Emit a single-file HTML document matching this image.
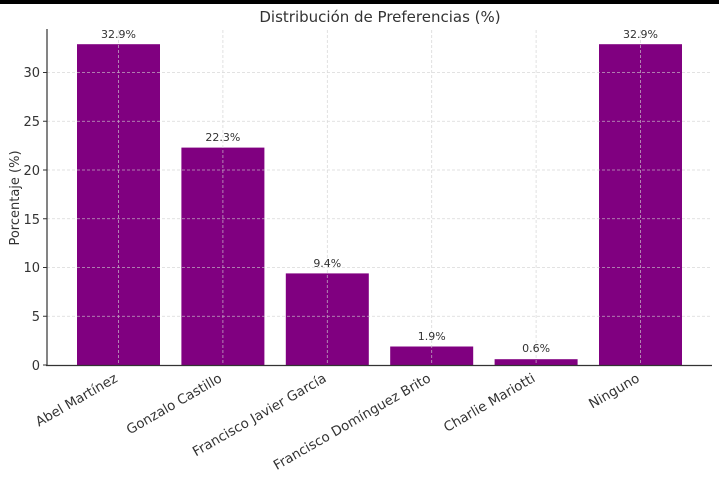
<!DOCTYPE html>
<html><head><meta charset="utf-8"><style>html,body{margin:0;padding:0;background:#fff}svg{display:block}text{font-family:"DejaVu Sans","Liberation Sans",sans-serif;fill:#333}</style></head>
<body>
<svg width="719" height="478" xmlns="http://www.w3.org/2000/svg">
<rect x="0" y="0" width="719" height="4" fill="#000"/>
<text x="380" y="22" font-size="15" text-anchor="middle">Distribución de Preferencias (%)</text>
<g fill="#800080">
<rect x="77" y="44.2" width="83" height="320.8"/>
<rect x="181.4" y="147.6" width="83" height="217.4"/>
<rect x="285.8" y="273.4" width="83" height="91.6"/>
<rect x="390.2" y="346.5" width="83" height="18.5"/>
<rect x="494.6" y="359.2" width="83" height="5.8"/>
<rect x="599" y="44.2" width="83" height="320.8"/>
</g>
<g stroke="#d0d0d0" stroke-width="0.8" stroke-dasharray="3,2" opacity="0.8">
<line x1="47" x2="712" y1="316.25" y2="316.25"/>
<line x1="47" x2="712" y1="267.5" y2="267.5"/>
<line x1="47" x2="712" y1="218.75" y2="218.75"/>
<line x1="47" x2="712" y1="170" y2="170"/>
<line x1="47" x2="712" y1="121.25" y2="121.25"/>
<line x1="47" x2="712" y1="72.5" y2="72.5"/>
<line x1="118.5" x2="118.5" y1="30" y2="365"/>
<line x1="222.9" x2="222.9" y1="30" y2="365"/>
<line x1="327.3" x2="327.3" y1="30" y2="365"/>
<line x1="431.7" x2="431.7" y1="30" y2="365"/>
<line x1="536.1" x2="536.1" y1="30" y2="365"/>
<line x1="640.5" x2="640.5" y1="30" y2="365"/>
</g>
<line x1="47" y1="29" x2="47" y2="366" stroke="#333" stroke-width="1.2"/>
<line x1="46" y1="365.5" x2="712" y2="365.5" stroke="#333" stroke-width="1.2"/>
<g font-size="13" text-anchor="end">
<text x="40" y="370">0</text><text x="40" y="321">5</text><text x="40" y="272">10</text>
<text x="40" y="224">15</text><text x="40" y="175">20</text><text x="40" y="126">25</text><text x="40" y="77">30</text>
</g>
<g stroke="#333"><line x1="43" x2="47" y1="365" y2="365"/><line x1="43" x2="47" y1="316.25" y2="316.25"/><line x1="43" x2="47" y1="267.5" y2="267.5"/><line x1="43" x2="47" y1="218.75" y2="218.75"/><line x1="43" x2="47" y1="170" y2="170"/><line x1="43" x2="47" y1="121.25" y2="121.25"/><line x1="43" x2="47" y1="72.5" y2="72.5"/></g>
<text transform="translate(19,198) rotate(-90)" font-size="13" text-anchor="middle">Porcentaje (%)</text>
<g font-size="11" text-anchor="middle">
<text x="118.5" y="38">32.9%</text><text x="222.9" y="141">22.3%</text><text x="327.3" y="267">9.4%</text>
<text x="431.7" y="340">1.9%</text><text x="536.1" y="352">0.6%</text><text x="640.5" y="38">32.9%</text>
</g>
<g font-size="13.4" text-anchor="end">
<text transform="translate(114,373) rotate(-30)" y="9">Abel Martínez</text>
<text transform="translate(218.4,373) rotate(-30)" y="9">Gonzalo Castillo</text>
<text transform="translate(322.8,373) rotate(-30)" y="9">Francisco Javier García</text>
<text transform="translate(427.2,373) rotate(-30)" y="9">Francisco Domínguez Brito</text>
<text transform="translate(531.6,373) rotate(-30)" y="9">Charlie Mariotti</text>
<text transform="translate(636,373) rotate(-30)" y="9">Ninguno</text>
</g>
</svg>
</body></html>
